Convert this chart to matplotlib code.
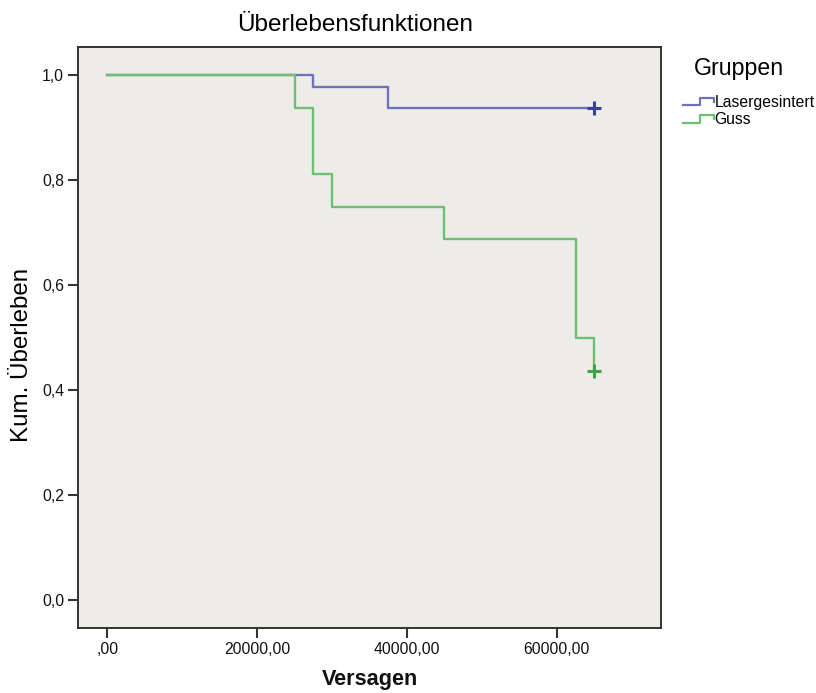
import numpy as np
import matplotlib
matplotlib.use('Agg')
import matplotlib.pyplot as plt
from matplotlib.lines import Line2D
from matplotlib.legend_handler import HandlerBase
from matplotlib.ticker import FuncFormatter, MultipleLocator

plt.rcParams['font.family'] = 'Liberation Sans'

# Kaplan-Meier steps
laser_times = [0, 27500, 37500, 65000]
laser_surv = [1.0, 0.978, 0.9375, 0.9375]
guss_times = [0, 25000, 27500, 30000, 45000, 62500, 65000]
guss_surv = [1.0, 0.9375, 0.8125, 0.75, 0.6875, 0.5, 0.4375]
# censored observations (+)
laser_cens_t = [65000]
laser_cens_s = [0.9375]
guss_cens_t = [65000]
guss_cens_s = [0.4375]

groups = ['Lasergesintert', 'Guss']
line_cols = ['#6e72bc', '#6cc06f']
mark_cols = ['#3b3f9c', '#3ca646']

W, H = 816, 693
fig = plt.figure(figsize=(W / 100, H / 100), dpi=100)
ax = fig.add_axes([78 / W, 1 - 628 / H, (661 - 78) / W, (628 - 47) / H])
ax.set_facecolor('#eeece9')

series = [(laser_times, laser_surv, laser_cens_t, laser_cens_s),
          (guss_times, guss_surv, guss_cens_t, guss_cens_s)]
for (t, s, ct, cs), lc, mc in zip(series, line_cols, mark_cols):
    ax.step(t, s, where='post', color=lc, lw=1.7)
    ax.plot(ct, cs, ls='none', marker='+', ms=10, mew=2.2, color=mc)

ax.set_xlim(-3900, 73900)
ax.set_ylim(-0.053, 1.054)
ax.xaxis.set_major_locator(MultipleLocator(20000))
ax.yaxis.set_major_locator(MultipleLocator(0.2))


def xfmt(v, pos):
    s = f'{v:.2f}'.replace('.', ',')
    return s[1:] if s.startswith('0,') else s


ax.xaxis.set_major_formatter(FuncFormatter(xfmt))
ax.yaxis.set_major_formatter(FuncFormatter(lambda v, p: f'{v:.1f}'.replace('.', ',')))
ax.tick_params(direction='out', length=7, width=1.5, color='#333333',
               labelsize=11.3, labelcolor='#111111', pad=3)
for sp in ax.spines.values():
    sp.set_color('#333333')
    sp.set_linewidth(1.4)

fig.text(355 / W, 1 - 25 / H, 'Überlebensfunktionen', ha='center', va='center', fontsize=17.5)
fig.text(22 / W, 1 - 355 / H, 'Kum. Überleben', rotation=90, ha='center', va='center', fontsize=17.4)
fig.text(370 / W, 1 - 680 / H, 'Versagen', ha='center', va='center', fontsize=15.6,
         fontweight='bold', color='#111111')


class StepHandler(HandlerBase):
    def create_artists(self, legend, orig_handle, xdescent, ydescent,
                       width, height, fontsize, trans):
        xs = np.array([0, 0.55, 0.55, 1.0, 1.0]) * width - xdescent
        ys = np.array([0.15, 0.15, 0.85, 0.85, 0.45]) * height - ydescent
        ln = Line2D(xs, ys, color=orig_handle.get_color(), lw=1.6, transform=trans)
        return [ln]


handles = [Line2D([], [], color=c) for c in line_cols]
fig.text(694 / W, 1 - 69 / H, 'Gruppen', ha='left', va='center', fontsize=16.7)
fig.legend(handles, groups, loc='upper left', bbox_to_anchor=(683 / W, 1 - 95 / H),
           frameon=False, fontsize=11.3, borderpad=0, borderaxespad=0,
           handlelength=1.95, handletextpad=0.05, labelspacing=0.15,
           handler_map={Line2D: StepHandler()})

fig.savefig('out.png', dpi=100)
